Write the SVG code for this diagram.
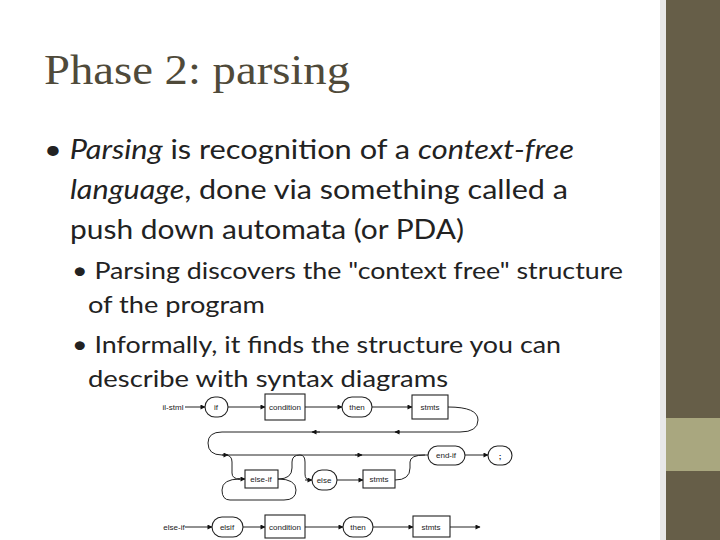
<svg xmlns="http://www.w3.org/2000/svg" width="720" height="540" viewBox="0 0 720 540">
<defs>
<marker id="ah" viewBox="0 0 10 10" refX="9" refY="5" markerWidth="6" markerHeight="5" orient="auto"><path d="M0,0L10,5L0,10z" fill="#111"/></marker>
<style>
.t{font-family:Lato,"Open Sans",sans-serif;fill:#222}
.d{font-family:"Liberation Sans",Arial,sans-serif;font-size:8px;fill:#222;text-anchor:middle}
.n{fill:#fff;stroke:#222;stroke-width:1.1}
.c{fill:none;stroke:#222;stroke-width:1}
.a{fill:none;stroke:#222;stroke-width:1;marker-end:url(#ah)}
</style>
</defs>
<rect width="720" height="540" fill="#fff"/>
<rect x="660" y="0" width="6" height="540" fill="#e8e8e8"/>
<rect x="666" y="0" width="54" height="540" fill="#665e48"/>
<rect x="666" y="418" width="54" height="53" fill="#a9a77f"/>
<text x="44" y="84" font-family="Liberation Serif,serif" font-size="42" fill="#4f4a3a" textLength="306" lengthAdjust="spacingAndGlyphs">Phase 2: parsing</text>
<g class="t" font-size="27">
<text x="44" y="159" textLength="530" lengthAdjust="spacingAndGlyphs">• <tspan font-style="italic">Parsing</tspan> is recognition of a <tspan font-style="italic">context-free</tspan></text>
<text x="70" y="199" textLength="498" lengthAdjust="spacingAndGlyphs"><tspan font-style="italic">language</tspan>, done via something called a</text>
<text x="70" y="239" textLength="394" lengthAdjust="spacingAndGlyphs">push down automata (or PDA)</text>
</g>
<g class="t" font-size="23">
<text x="72" y="279" textLength="551" lengthAdjust="spacingAndGlyphs">• Parsing discovers the "context free" structure</text>
<text x="88" y="313" textLength="177" lengthAdjust="spacingAndGlyphs">of the program</text>
<text x="72" y="353" textLength="489" lengthAdjust="spacingAndGlyphs">• Informally, it finds the structure you can</text>
<text x="88" y="387" textLength="360" lengthAdjust="spacingAndGlyphs">describe with syntax diagrams</text>
</g>
<g id="connectors">
<path class="a" d="M185,407H205"/>
<path class="a" d="M228,407H265"/>
<path class="a" d="M305,407H342"/>
<path class="a" d="M372,407H412"/>
<path class="c" d="M448,407Q478,407 478,420Q478,432 460,432H222Q208,432 208,443Q208,455 222,455H428"/>
<path class="a" d="M400,432H395"/><path class="a" d="M320,432H312"/>
<path class="a" d="M222,455H228"/><path class="a" d="M355,455H362"/>
<path class="a" d="M465,455H488"/>
<path class="c" d="M225,455Q232,455 232,462V473Q232,479 240,479"/><path class="a" d="M238,479H245"/>
<path class="c" d="M278,479Q292,479 292,468V462Q292,455 300,455"/>
<path class="c" d="M278,479Q296,479 296,490Q296,500 284,500H230Q222,500 222,490Q222,479 240,479"/>
<path class="c" d="M300,455Q305,455 305,462V474Q305,480 310,480"/><path class="a" d="M305,480H312"/>
<path class="a" d="M337,480H363"/>
<path class="c" d="M395,480Q410,480 410,468V462Q410,455 425,455"/>
<path class="a" d="M185,527H212"/>
<path class="a" d="M243,527H265"/>
<path class="a" d="M305,527H343"/>
<path class="a" d="M373,527H413"/>
<path class="a" d="M450,527H480"/>
</g>
<text class="d" x="173" y="410">il-stml</text>
<text class="d" x="174" y="530">else-if</text>
<g id="if"><rect class="n" x="205" y="397" width="23" height="20" rx="10"/><text class="d" x="216" y="410">if</text></g>
<g id="cond1"><rect class="n" x="265" y="394" width="40" height="26"/><text class="d" x="285" y="410">condition</text></g>
<g id="then1"><rect class="n" x="342" y="397" width="30" height="20" rx="10"/><text class="d" x="357" y="410">then</text></g>
<g id="stmts1"><rect class="n" x="412" y="395" width="36" height="24"/><text class="d" x="430" y="410">stmts</text></g>
<g id="endif"><rect class="n" x="428" y="446" width="37" height="19" rx="9.5"/><text class="d" x="446" y="458">end-if</text></g>
<g id="semi"><rect class="n" x="488" y="446" width="24" height="19" rx="9.5"/><text class="d" x="500" y="459" font-weight="bold" font-size="11">;</text></g>
<g id="elseif"><rect class="n" x="245" y="470" width="33" height="18"/><text class="d" x="261" y="482">else-if</text></g>
<g id="else"><rect class="n" x="312" y="470" width="25" height="20" rx="10"/><text class="d" x="324" y="483">else</text></g>
<g id="stmts2"><rect class="n" x="363" y="470" width="32" height="18"/><text class="d" x="379" y="482">stmts</text></g>
<g id="elsif"><rect class="n" x="212" y="517" width="31" height="20" rx="10"/><text class="d" x="227" y="530">elsif</text></g>
<g id="cond2"><rect class="n" x="265" y="515" width="40" height="23"/><text class="d" x="285" y="530">condition</text></g>
<g id="then2"><rect class="n" x="343" y="517" width="30" height="20" rx="10"/><text class="d" x="358" y="530">then</text></g>
<g id="stmts3"><rect class="n" x="413" y="516" width="37" height="21"/><text class="d" x="431" y="530">stmts</text></g>
</svg>
